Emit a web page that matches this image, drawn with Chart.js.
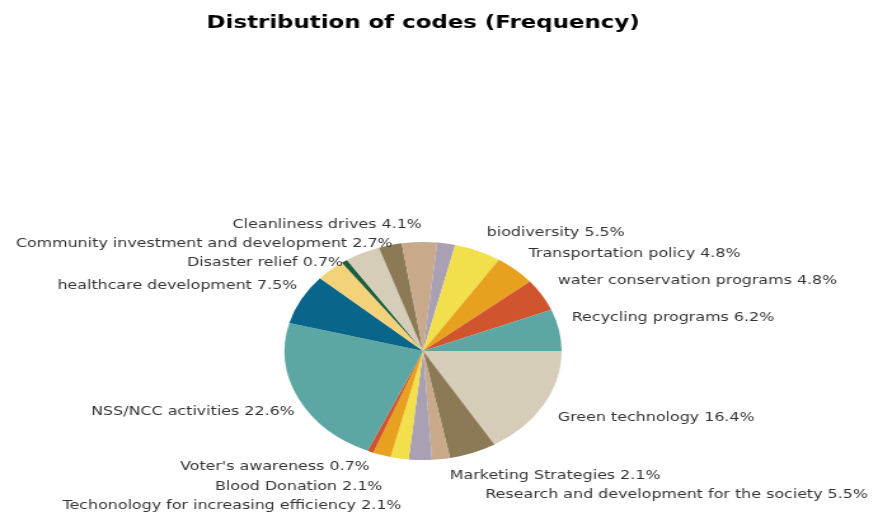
<!DOCTYPE html>
<html>
<head>
<meta charset="utf-8">
<script src="https://cdn.jsdelivr.net/npm/chart.js@4"></script>
<style>
  html, body { margin: 0; padding: 0; background: #fff; }
  /* the chart is drawn narrow and widened, so the pie comes out as an ellipse */
  #wrap { width: 691px; height: 516px; transform: scaleX(1.2706); transform-origin: 0 0; }
</style>
</head>
<body>
<div id="wrap"><canvas id="codes_chart" width="691" height="516"></canvas></div>
<script>
// slices, clockwise from 3 o'clock; empty names are slices without a label
const categories = [
    'Green technology', 'Research and development for the society', 'Marketing Strategies', '',
    'Techonology for increasing efficiency', 'Blood Donation', "Voter's awareness", 'NSS/NCC activities',
    'healthcare development', '', 'Disaster relief', '', 'Community investment and development',
    'Cleanliness drives', '', 'biodiversity', 'Transportation policy', 'water conservation programs',
    'Recycling programs'
];
const shares = [16.4, 5.5, 2.1, 2.7, 2.1, 2.1, 0.7, 22.6, 7.5, 3.4, 0.7, 4.1, 2.7, 4.1, 2.1, 5.5, 4.8, 4.8, 6.2];

const palette = ['#d6cdb8', '#8c7a56', '#c9a98b', '#a9a1b3', '#f1df4c', '#e8a11e',
                 '#d0552f', '#5ca7a3', '#0a658a', '#f4d27a', '#1d5e3e'];
const sliceColors = shares.map((v, i) => palette[i % palette.length]);

// where each label sits, relative to the pie centre (px)
const labelOffsets = [
    [106, 67], [49, 144], [21, 125], null, [-17, 155], [-32, 136], [-42, 116], [-101, 61],
    [-99, -65], null, [-63, -88], null, [-24, -107], [-1, -126], null, [50, -118], [83, -97],
    [106, -70], [117, -33]
];

const sliceLabels = {
    id: 'sliceLabels',
    afterDatasetsDraw(chart) {
        const ctx = chart.ctx;
        const arcs = chart.getDatasetMeta(0).data;
        ctx.save();
        ctx.font = '12.5px "DejaVu Sans"';
        ctx.fillStyle = '#333333';
        ctx.textBaseline = 'middle';
        arcs.forEach((arc, i) => {
            if (!categories[i] || !labelOffsets[i]) return;
            const [dx, dy] = labelOffsets[i];
            ctx.textAlign = dx > 0 ? 'left' : 'right';
            ctx.fillText(categories[i] + ' ' + shares[i].toFixed(1) + '%', arc.x + dx, arc.y + dy);
        });
        ctx.restore();
    }
};

const ctx = document.getElementById('codes_chart').getContext('2d');

new Chart(ctx, {
    type: 'pie',
    data: {
        labels: categories,
        datasets: [{
            data: shares,
            backgroundColor: sliceColors,
            borderWidth: 0
        }]
    },
    options: {
        responsive: false,
        animation: false,
        rotation: 90, // first slice starts at 3 o'clock
        layout: {
            padding: { left: 0, right: 25, top: 0, bottom: 56 }
        },
        plugins: {
            legend: { display: false },
            tooltip: { enabled: false },
            title: {
                display: true,
                text: 'Distribution of codes (Frequency)',
                color: '#000',
                font: { family: 'DejaVu Sans', size: 18, weight: 'bold', lineHeight: 1.2 },
                padding: { top: 13, bottom: 207.4 }
            }
        }
    },
    plugins: [sliceLabels]
});
</script>
</body>
</html>
